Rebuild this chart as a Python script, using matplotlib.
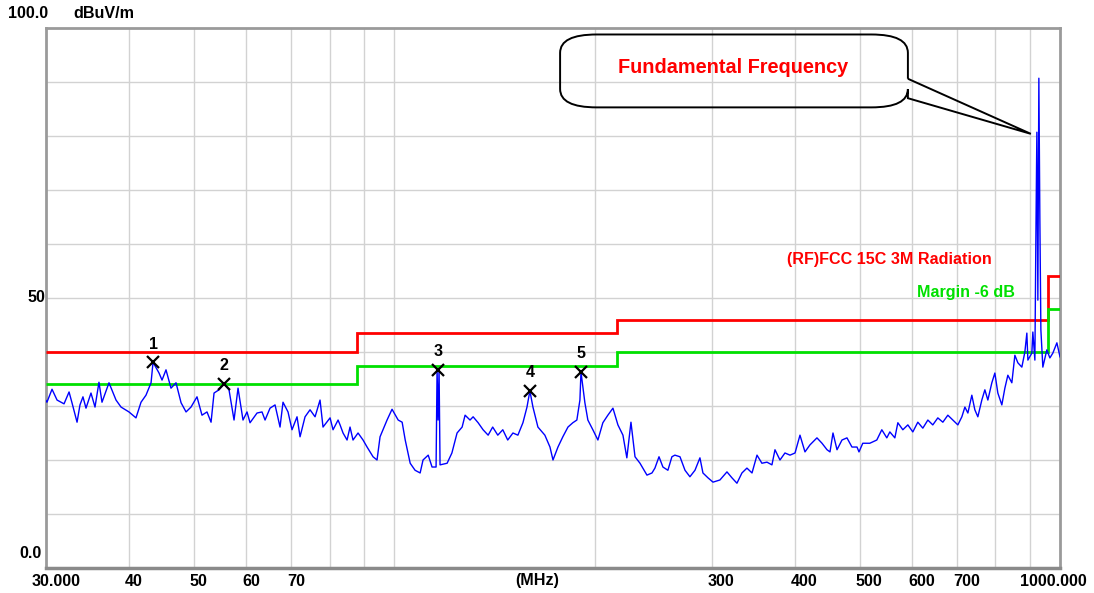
import matplotlib
matplotlib.use('Agg')
import matplotlib.pyplot as plt
from matplotlib.path import Path
from matplotlib.patches import PathPatch
from matplotlib.ticker import NullLocator

plt.rcParams['font.family'] = ['Liberation Sans', 'DejaVu Sans']

# measured trace (MHz, dBuV/m)
trace_mhz = [
    30.00, 30.10, 30.63, 31.17, 31.93, 32.49, 32.82, 33.40, 33.74, 34.09,
    34.45, 35.05, 35.54, 36.03, 36.41, 37.30, 38.22, 38.89, 39.97, 40.95,
    41.67, 42.39, 43.14, 43.44, 44.35, 44.81, 45.43, 46.22, 47.03, 47.86,
    48.69, 49.53, 50.57, 51.45, 52.35, 53.09, 53.64, 54.57, 55.52, 56.49,
    57.48, 58.28, 59.29, 60.12, 60.75, 62.24, 63.32, 63.99, 65.10, 66.24,
    67.39, 68.09, 69.28, 70.24, 71.47, 72.22, 73.48, 74.76, 76.07, 77.39,
    78.19, 80.12, 80.95, 82.37, 82.94, 83.80, 84.97, 85.85, 86.74, 88.26,
    89.80, 91.06, 92.96, 94.25, 95.24, 97.57, 99.27, 101.4, 102.8, 103.9,
    105.7, 107.5, 109.4, 110.5, 112.5, 114.0, 115.2, 115.6, 116.0, 116.4,
    116.8, 117.2, 120.1, 122.1, 124.3, 126.5, 127.8, 130.0, 131.4, 133.7,
    136.0, 138.4, 140.6, 143.1, 145.6, 148.1, 150.8, 153.4, 156.1, 158.3,
    159.9, 161.6, 164.4, 168.4, 171.4, 173.2, 176.2, 179.2, 182.4, 185.5,
    188.1, 190.1, 190.8, 193.4, 195.4, 198.8, 202.3, 205.8, 209.4, 213.1,
    216.8, 220.6, 223.6, 226.8, 228.4, 230.0, 234.0, 239.7, 243.9, 246.4,
    249.9, 253.3, 257.7, 261.3, 264.0, 268.7, 273.4, 278.1, 283.0, 287.9,
    290.9, 296.0, 301.2, 308.5, 316.1, 321.6, 327.2, 332.9, 338.7, 344.7,
    350.7, 356.7, 363.0, 369.3, 373.2, 379.7, 386.3, 393.1, 400.0, 406.9,
    414.0, 421.2, 431.5, 439.1, 446.8, 451.4, 456.1, 462.5, 470.5, 478.7,
    487.0, 495.6, 499.0, 505.6, 518.0, 530.7, 540.0, 549.4, 555.2, 564.9,
    570.8, 580.7, 590.9, 601.1, 611.6, 622.3, 633.2, 644.1, 655.4, 666.9,
    678.5, 690.3, 702.4, 712.2, 719.7, 727.2, 737.2, 744.9, 752.7, 763.1,
    771.2, 779.2, 790.0, 798.3, 806.6, 817.8, 826.4, 835.0, 846.6, 855.5,
    864.4, 876.4, 885.6, 891.7, 894.9, 907.2, 910.4, 916.8, 919.9, 923.1,
    926.3, 929.5, 932.7, 936.0, 942.4, 955.5, 965.6, 975.6, 989.3, 1000.0]
trace_level = [
    31.0, 30.7, 33.1, 31.1, 30.4, 32.6, 30.6, 27.0, 30.2, 31.7,
    29.6, 32.4, 29.8, 34.4, 30.7, 34.3, 31.1, 29.8, 28.9, 27.8,
    30.7, 32.0, 34.3, 38.1, 36.1, 34.8, 36.7, 33.3, 34.3, 30.6,
    28.9, 29.8, 31.7, 28.3, 28.9, 27.0, 32.4, 33.0, 34.1, 33.0,
    27.4, 33.3, 27.4, 28.9, 26.9, 28.7, 28.9, 27.4, 29.6, 30.2,
    26.1, 30.7, 28.9, 25.6, 28.0, 24.3, 28.0, 29.3, 28.0, 31.1,
    26.1, 27.8, 25.6, 27.4, 26.5, 25.0, 23.7, 26.1, 23.7, 25.0,
    23.7, 22.4, 20.6, 20.0, 24.3, 27.4, 29.4, 27.4, 27.0, 23.7,
    19.4, 18.1, 17.6, 20.0, 20.9, 18.7, 18.7, 18.7, 36.7, 27.4,
    36.7, 19.1, 19.4, 21.3, 25.0, 26.1, 28.3, 27.4, 28.0, 26.9,
    25.6, 24.6, 26.1, 24.6, 25.6, 23.7, 25.0, 24.6, 26.9, 29.8,
    32.8, 29.8, 26.1, 24.6, 22.4, 20.0, 22.4, 24.3, 26.1, 26.9,
    27.4, 31.1, 36.3, 30.6, 27.4, 25.6, 23.7, 26.9, 28.3, 29.6,
    26.5, 24.6, 20.4, 27.0, 23.7, 20.6, 19.4, 17.2, 17.6, 18.5,
    20.6, 18.7, 18.1, 20.6, 20.9, 20.6, 18.1, 16.9, 18.1, 20.4,
    17.6, 16.7, 15.9, 16.3, 17.8, 16.7, 15.7, 17.6, 18.5, 17.6,
    20.9, 19.4, 19.6, 19.1, 21.9, 20.0, 21.3, 20.9, 21.3, 24.6,
    21.5, 22.8, 24.1, 23.1, 21.9, 21.5, 25.0, 21.9, 23.7, 24.1,
    22.4, 22.4, 21.5, 23.1, 23.1, 23.7, 25.6, 24.1, 25.2, 24.1,
    26.9, 25.6, 26.5, 25.2, 27.0, 25.9, 27.4, 26.5, 27.8, 27.0,
    28.3, 27.4, 26.5, 28.0, 29.8, 28.7, 32.0, 29.3, 28.0, 31.1,
    33.0, 31.1, 34.3, 36.1, 32.4, 30.2, 33.3, 35.7, 34.3, 39.4,
    38.0, 37.2, 40.0, 43.5, 38.5, 39.8, 43.7, 38.5, 60.7, 80.7,
    49.6, 90.7, 64.8, 44.1, 37.2, 40.4, 38.9, 39.8, 41.7, 39.1]

# FCC 15C 3m limit and -6 dB margin
limit_edges = [30, 88, 216, 960, 1000]
fcc_limit = [40.0, 43.5, 46.0, 54.0]
margin_db = -6.0
margin_line = [v + margin_db for v in fcc_limit]

# peak markers
mk_mhz = [43.44, 55.52, 116.4, 159.9, 190.8]
mk_level = [38.1, 34.1, 36.7, 32.8, 36.3]

# callout tip near the fundamental
tip_mhz, tip_level = 904, 80.4

grid_x = [40, 50, 60, 70, 80, 90, 100, 200, 300, 400, 500, 600, 700, 800, 900]
xlab_mhz = [30, 40, 50, 60, 70, 300, 400, 500, 600, 700, 1000]
xlab_text = ['30.000', '40', '50', '60', '70', '300', '400', '500', '600', '700', '1000.000']

W, H = 1094, 593
fig = plt.figure(figsize=(W / 100, H / 100), dpi=100)
ax = fig.add_axes([46 / W, 25 / H, 1014 / W, 540 / H])
ax.set_xscale('log')
ax.set_xlim(30, 1000)
ax.set_ylim(0, 100)
ax.set_xticks(grid_x)
ax.xaxis.set_minor_locator(NullLocator())
ax.set_yticks(range(10, 100, 10))
ax.tick_params(which='both', length=0, labelbottom=False, labelleft=False)
ax.grid(color='#d2d2d2', lw=1)
for s in ax.spines.values():
    s.set_color('#9a9a9a')
    s.set_linewidth(2)
ax.spines['bottom'].set_color('#8a8a8a')
ax.spines['bottom'].set_linewidth(2.5)

ax.stairs(fcc_limit, limit_edges, baseline=None, color='#ff0000', lw=2, zorder=3)
ax.stairs(margin_line, limit_edges, baseline=None, color='#00e000', lw=2, zorder=3)
ax.plot(trace_mhz, trace_level, color='#0000ff', lw=1, zorder=4)
ax.plot(mk_mhz, mk_level, 'x', color='black', ms=8, mew=1.6, zorder=6)

bold = dict(fontweight='bold', fontsize=11.6)
for i, (f, v) in enumerate(zip(mk_mhz, mk_level)):
    ax.annotate(str(i + 1), (f, v), xytext=(0, 18), textcoords='offset pixels',
                ha='center', va='center', **bold)

for f, t in zip(xlab_mhz, xlab_text):
    if t == '30.000':
        ha, dx = 'left', -14
    elif t == '1000.000':
        ha, dx = 'right', 27
    else:
        ha, dx = 'left', -4
    ax.annotate(t, (f, 0), xycoords=('data', 'axes fraction'), xytext=(dx, -13),
                textcoords='offset pixels', ha=ha, va='center', annotation_clip=False, **bold)
ax.text(0.484, -0.024, '(MHz)', transform=ax.transAxes, ha='center', va='center', **bold)

fig.text(8 / W, 1 - 13 / H, '100.0', ha='left', va='center', **bold)
fig.text(73 / W, 1 - 13 / H, 'dBuV/m', ha='left', va='center', **bold)
fig.text(45 / W, 1 - 297 / H, '50', ha='right', va='center', **bold)
fig.text(42 / W, 1 - 553 / H, '0.0', ha='right', va='center', **bold)

ax.text(0.731, 0.572, '(RF)FCC 15C 3M Radiation', transform=ax.transAxes,
        color='#ff0000', ha='left', va='center', **bold)
ax.text(0.859, 0.511, 'Margin -6 dB', transform=ax.transAxes,
        color='#00e000', ha='left', va='center', **bold)

# callout bubble with tail pointing at the fundamental
tip = ax.transAxes.inverted().transform(ax.transData.transform((tip_mhz, tip_level)))
x0, x1, y0, y1 = 0.507, 0.850, 0.853, 0.988
rx, ry = 0.036, 0.034
ya, yb = 0.906, 0.870
verts = [(x1, ya), (x1, y1 - ry), (x1, y1), (x1 - rx, y1), (x0 + rx, y1), (x0, y1), (x0, y1 - ry),
         (x0, y0 + ry), (x0, y0), (x0 + rx, y0), (x1 - rx, y0), (x1, y0), (x1, y0 + ry),
         (x1, yb), tuple(tip), (x1, ya)]
codes = [Path.MOVETO, Path.LINETO, Path.CURVE3, Path.CURVE3, Path.LINETO, Path.CURVE3, Path.CURVE3,
         Path.LINETO, Path.CURVE3, Path.CURVE3, Path.LINETO, Path.CURVE3, Path.CURVE3,
         Path.LINETO, Path.LINETO, Path.LINETO]
ax.add_patch(PathPatch(Path(verts, codes), transform=ax.transAxes, fc='none', ec='black',
                       lw=1.4, zorder=7, clip_on=False))
ax.text(0.678, 0.926, 'Fundamental Frequency', transform=ax.transAxes, color='#ff0000',
        ha='center', va='center', fontweight='bold', fontsize=14.3)

fig.savefig('out.png', dpi=100, facecolor='white')
